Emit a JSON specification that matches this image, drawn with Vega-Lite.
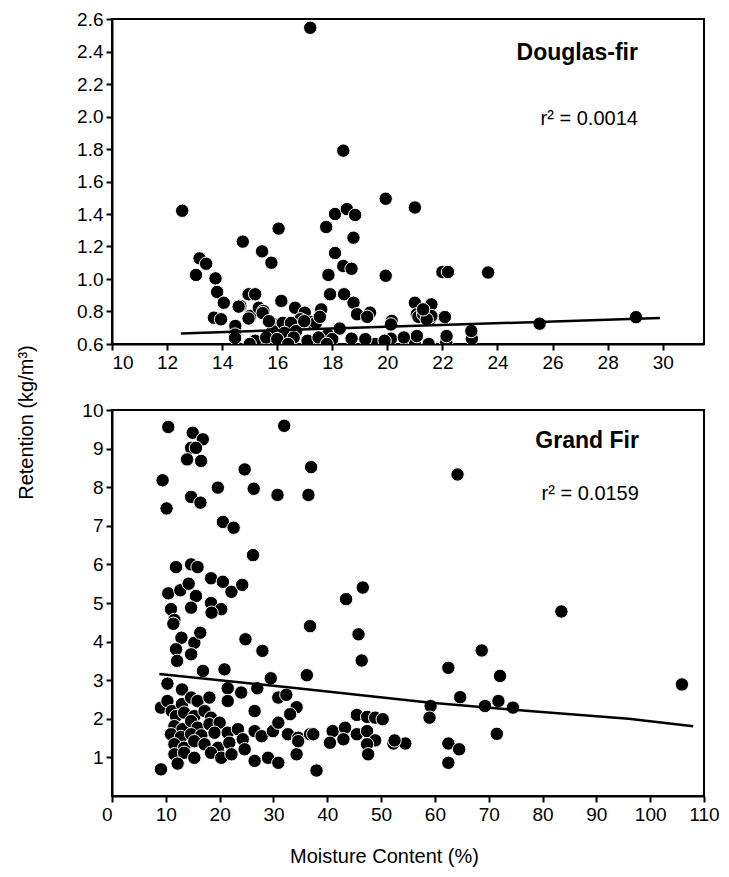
{
  "$schema": "https://vega.github.io/schema/vega-lite/v6.json",
  "padding": {"left": 14, "top": 9, "right": 5, "bottom": 5},
  "background": "white",
  "spacing": 66,
  "bounds": "flush",
  "config": {
    "font": "Liberation Sans",
    "view": {"stroke": "black", "strokeWidth": 2},
    "axis": {
      "grid": false,
      "domainColor": "black",
      "domainWidth": 2,
      "tickColor": "black",
      "tickWidth": 2,
      "tickSize": 6,
      "labelFont": "Liberation Sans",
      "labelFontSize": 19,
      "labelColor": "black",
      "labelPadding": 3,
      "titleFont": "Liberation Sans",
      "titleFontSize": 20,
      "titleFontWeight": "normal",
      "titleColor": "black"
    }
  },
  "datasets": {
    "douglas": [
      {"mc": 17.2, "ret": 2.546}, {"mc": 18.4, "ret": 1.79}, {"mc": 12.55, "ret": 1.42}, {"mc": 19.94, "ret": 1.494},
      {"mc": 21.0, "ret": 1.44}, {"mc": 16.05, "ret": 1.31}, {"mc": 17.78, "ret": 1.32}, {"mc": 18.1, "ret": 1.40},
      {"mc": 18.53, "ret": 1.43}, {"mc": 18.83, "ret": 1.394}, {"mc": 18.77, "ret": 1.254}, {"mc": 14.75, "ret": 1.23},
      {"mc": 15.45, "ret": 1.17}, {"mc": 15.79, "ret": 1.10}, {"mc": 18.1, "ret": 1.16}, {"mc": 18.4, "ret": 1.08},
      {"mc": 18.7, "ret": 1.063}, {"mc": 17.86, "ret": 1.025}, {"mc": 19.94, "ret": 1.02}, {"mc": 13.18, "ret": 1.127},
      {"mc": 13.42, "ret": 1.094}, {"mc": 13.05, "ret": 1.025}, {"mc": 13.76, "ret": 1.004}, {"mc": 13.82, "ret": 0.92},
      {"mc": 14.06, "ret": 0.854}, {"mc": 13.7, "ret": 0.762}, {"mc": 13.96, "ret": 0.752}, {"mc": 14.48, "ret": 0.711},
      {"mc": 14.96, "ret": 0.906}, {"mc": 15.2, "ret": 0.906}, {"mc": 14.66, "ret": 0.834}, {"mc": 15.02, "ret": 0.772},
      {"mc": 15.33, "ret": 0.823}, {"mc": 15.5, "ret": 0.803}, {"mc": 16.15, "ret": 0.865}, {"mc": 16.65, "ret": 0.823},
      {"mc": 17.0, "ret": 0.793}, {"mc": 16.84, "ret": 0.752}, {"mc": 17.6, "ret": 0.813}, {"mc": 17.92, "ret": 0.906},
      {"mc": 18.43, "ret": 0.906}, {"mc": 18.77, "ret": 0.854}, {"mc": 18.9, "ret": 0.783}, {"mc": 19.37, "ret": 0.793},
      {"mc": 20.16, "ret": 0.742}, {"mc": 21.0, "ret": 0.854}, {"mc": 21.07, "ret": 0.783}, {"mc": 15.8, "ret": 0.73},
      {"mc": 16.2, "ret": 0.73}, {"mc": 16.5, "ret": 0.73}, {"mc": 17.25, "ret": 0.735}, {"mc": 17.4, "ret": 0.73},
      {"mc": 14.96, "ret": 0.757}, {"mc": 14.47, "ret": 0.658}, {"mc": 15.47, "ret": 0.79}, {"mc": 15.83, "ret": 0.68},
      {"mc": 16.26, "ret": 0.668}, {"mc": 16.69, "ret": 0.68}, {"mc": 16.98, "ret": 0.74}, {"mc": 17.55, "ret": 0.767},
      {"mc": 17.84, "ret": 0.658}, {"mc": 18.27, "ret": 0.695}, {"mc": 18.7, "ret": 0.633}, {"mc": 19.27, "ret": 0.767},
      {"mc": 19.56, "ret": 0.6}, {"mc": 20.13, "ret": 0.72}, {"mc": 20.13, "ret": 0.633}, {"mc": 21.0, "ret": 0.61},
      {"mc": 21.13, "ret": 0.767}, {"mc": 21.56, "ret": 0.755}, {"mc": 22.06, "ret": 0.767}, {"mc": 22.14, "ret": 0.61},
      {"mc": 23.07, "ret": 0.633}, {"mc": 25.53, "ret": 0.725}, {"mc": 29.03, "ret": 0.765}, {"mc": 22.0, "ret": 1.043},
      {"mc": 22.2, "ret": 1.043}, {"mc": 23.66, "ret": 1.04}, {"mc": 21.6, "ret": 0.844}, {"mc": 21.3, "ret": 0.783},
      {"mc": 21.6, "ret": 0.772}, {"mc": 22.09, "ret": 0.766}, {"mc": 21.07, "ret": 0.649}, {"mc": 22.15, "ret": 0.649},
      {"mc": 23.05, "ret": 0.68}, {"mc": 21.43, "ret": 0.752}, {"mc": 21.3, "ret": 0.813}, {"mc": 14.6, "ret": 0.83},
      {"mc": 15.7, "ret": 0.74}, {"mc": 14.47, "ret": 0.637}, {"mc": 15.2, "ret": 0.62}, {"mc": 15.6, "ret": 0.64},
      {"mc": 16.0, "ret": 0.63}, {"mc": 16.6, "ret": 0.64}, {"mc": 17.1, "ret": 0.62}, {"mc": 17.5, "ret": 0.64},
      {"mc": 18.0, "ret": 0.63}, {"mc": 19.2, "ret": 0.63}, {"mc": 19.9, "ret": 0.62}, {"mc": 20.6, "ret": 0.64},
      {"mc": 15.0, "ret": 0.6}, {"mc": 16.4, "ret": 0.6}, {"mc": 17.8, "ret": 0.6}, {"mc": 21.5, "ret": 0.6}
    ],
    "grand": [
      {"mc": 10.46, "ret": 9.56}, {"mc": 15.0, "ret": 9.41}, {"mc": 16.87, "ret": 9.24}, {"mc": 32.0, "ret": 9.59},
      {"mc": 14.7, "ret": 9.02}, {"mc": 15.6, "ret": 9.02}, {"mc": 13.95, "ret": 8.72}, {"mc": 16.56, "ret": 8.68},
      {"mc": 9.4, "ret": 8.18}, {"mc": 24.65, "ret": 8.46}, {"mc": 37.0, "ret": 8.52}, {"mc": 19.67, "ret": 7.99},
      {"mc": 26.33, "ret": 7.96}, {"mc": 30.75, "ret": 7.8}, {"mc": 36.5, "ret": 7.8}, {"mc": 14.7, "ret": 7.75},
      {"mc": 16.43, "ret": 7.6}, {"mc": 10.14, "ret": 7.45}, {"mc": 20.6, "ret": 7.1}, {"mc": 22.6, "ret": 6.95},
      {"mc": 26.2, "ret": 6.24}, {"mc": 11.9, "ret": 5.93}, {"mc": 14.7, "ret": 6.0}, {"mc": 15.9, "ret": 5.93},
      {"mc": 18.4, "ret": 5.64}, {"mc": 20.6, "ret": 5.55}, {"mc": 22.2, "ret": 5.29}, {"mc": 24.2, "ret": 5.47},
      {"mc": 10.46, "ret": 5.25}, {"mc": 12.7, "ret": 5.33}, {"mc": 14.25, "ret": 5.5}, {"mc": 15.6, "ret": 5.18},
      {"mc": 10.96, "ret": 4.84}, {"mc": 14.7, "ret": 4.88}, {"mc": 18.4, "ret": 5.0}, {"mc": 20.3, "ret": 4.84},
      {"mc": 18.5, "ret": 4.75}, {"mc": 11.6, "ret": 4.56}, {"mc": 11.4, "ret": 4.46}, {"mc": 12.9, "ret": 4.1},
      {"mc": 15.3, "ret": 3.97}, {"mc": 16.4, "ret": 4.23}, {"mc": 11.9, "ret": 3.8}, {"mc": 14.7, "ret": 3.67},
      {"mc": 12.1, "ret": 3.5}, {"mc": 24.8, "ret": 4.06}, {"mc": 27.95, "ret": 3.76}, {"mc": 36.8, "ret": 4.4},
      {"mc": 16.9, "ret": 3.24}, {"mc": 20.9, "ret": 3.28}, {"mc": 36.2, "ret": 3.13}, {"mc": 29.5, "ret": 3.05},
      {"mc": 10.3, "ret": 2.91}, {"mc": 13.0, "ret": 2.76}, {"mc": 21.5, "ret": 2.79}, {"mc": 24.0, "ret": 2.68},
      {"mc": 27.0, "ret": 2.79}, {"mc": 30.9, "ret": 2.55}, {"mc": 32.4, "ret": 2.62}, {"mc": 34.3, "ret": 2.3},
      {"mc": 33.1, "ret": 2.12}, {"mc": 9.1, "ret": 2.29}, {"mc": 10.3, "ret": 2.46}, {"mc": 11.1, "ret": 2.2},
      {"mc": 13.0, "ret": 2.38}, {"mc": 14.7, "ret": 2.55}, {"mc": 15.9, "ret": 2.46}, {"mc": 18.1, "ret": 2.55},
      {"mc": 21.5, "ret": 2.46}, {"mc": 26.5, "ret": 2.2}, {"mc": 11.9, "ret": 2.07}, {"mc": 13.4, "ret": 2.16},
      {"mc": 15.3, "ret": 2.07}, {"mc": 17.2, "ret": 2.2}, {"mc": 18.4, "ret": 2.03}, {"mc": 11.6, "ret": 1.81},
      {"mc": 13.1, "ret": 1.73}, {"mc": 14.7, "ret": 1.94}, {"mc": 15.9, "ret": 1.77}, {"mc": 18.1, "ret": 1.86},
      {"mc": 20.0, "ret": 1.9}, {"mc": 10.96, "ret": 1.6}, {"mc": 12.8, "ret": 1.53}, {"mc": 14.7, "ret": 1.6},
      {"mc": 16.6, "ret": 1.57}, {"mc": 19.05, "ret": 1.64}, {"mc": 21.5, "ret": 1.64}, {"mc": 23.4, "ret": 1.73},
      {"mc": 11.6, "ret": 1.34}, {"mc": 13.4, "ret": 1.25}, {"mc": 15.3, "ret": 1.42}, {"mc": 17.2, "ret": 1.34},
      {"mc": 19.7, "ret": 1.25}, {"mc": 21.8, "ret": 1.38}, {"mc": 24.3, "ret": 1.47}, {"mc": 26.5, "ret": 1.68},
      {"mc": 27.8, "ret": 1.55}, {"mc": 29.9, "ret": 1.68}, {"mc": 30.9, "ret": 1.9}, {"mc": 32.7, "ret": 1.6},
      {"mc": 34.6, "ret": 1.51}, {"mc": 36.8, "ret": 1.6}, {"mc": 11.6, "ret": 1.08}, {"mc": 13.4, "ret": 1.12},
      {"mc": 15.3, "ret": 0.99}, {"mc": 18.4, "ret": 1.12}, {"mc": 20.3, "ret": 0.99}, {"mc": 22.2, "ret": 1.08},
      {"mc": 24.65, "ret": 1.21}, {"mc": 26.5, "ret": 0.91}, {"mc": 29.0, "ret": 0.99}, {"mc": 30.9, "ret": 0.86},
      {"mc": 34.3, "ret": 1.08}, {"mc": 38.0, "ret": 0.66}, {"mc": 9.1, "ret": 0.69}, {"mc": 12.2, "ret": 0.84},
      {"mc": 64.2, "ret": 8.33}, {"mc": 43.5, "ret": 5.1}, {"mc": 46.6, "ret": 5.4}, {"mc": 45.8, "ret": 4.19},
      {"mc": 46.4, "ret": 3.51}, {"mc": 83.5, "ret": 4.78}, {"mc": 68.7, "ret": 3.77}, {"mc": 62.5, "ret": 3.32},
      {"mc": 72.1, "ret": 3.11}, {"mc": 105.9, "ret": 2.89}, {"mc": 64.7, "ret": 2.56}, {"mc": 59.2, "ret": 2.33},
      {"mc": 59.0, "ret": 2.03}, {"mc": 69.3, "ret": 2.33}, {"mc": 71.8, "ret": 2.46}, {"mc": 74.5, "ret": 2.29},
      {"mc": 71.5, "ret": 1.61}, {"mc": 34.6, "ret": 1.42}, {"mc": 37.4, "ret": 1.6}, {"mc": 41.0, "ret": 1.68},
      {"mc": 43.3, "ret": 1.77}, {"mc": 40.5, "ret": 1.38}, {"mc": 43.0, "ret": 1.47}, {"mc": 45.5, "ret": 2.1},
      {"mc": 47.4, "ret": 2.05}, {"mc": 48.9, "ret": 2.03}, {"mc": 50.3, "ret": 1.99}, {"mc": 45.5, "ret": 1.6},
      {"mc": 47.4, "ret": 1.68}, {"mc": 48.9, "ret": 1.44}, {"mc": 47.4, "ret": 1.34}, {"mc": 47.6, "ret": 1.08},
      {"mc": 52.3, "ret": 1.36}, {"mc": 54.5, "ret": 1.36}, {"mc": 52.5, "ret": 1.44}, {"mc": 62.5, "ret": 1.36},
      {"mc": 64.5, "ret": 1.21}, {"mc": 62.5, "ret": 0.86}
    ],
    "fit_douglas": [
      {"mc": 12.5, "ret": 0.665}, {"mc": 29.9, "ret": 0.76}
    ],
    "fit_grand": [
      {"mc": 8.8, "ret": 3.16}, {"mc": 34, "ret": 2.8}, {"mc": 58.8, "ret": 2.42},
      {"mc": 77.5, "ret": 2.2}, {"mc": 96, "ret": 2.0}, {"mc": 108, "ret": 1.81}
    ],
    "labels_douglas": [
      {"mc": 29.1, "ret": 2.39, "text": "Douglas-fir", "kind": "name"},
      {"mc": 29.1, "ret": 1.985, "text": "r² = 0.0014", "kind": "r2"}
    ],
    "labels_grand": [
      {"mc": 97.9, "ret": 9.2, "text": "Grand Fir", "kind": "name"},
      {"mc": 97.9, "ret": 7.82, "text": "r² = 0.0159", "kind": "r2"}
    ]
  },
  "vconcat": [
    {
      "width": 592,
      "height": 325,
      "encoding": {
        "x": {"field": "mc", "type": "quantitative",
              "scale": {"domain": [10, 31.5], "nice": false, "zero": false},
              "axis": {"title": null, "values": [10, 12, 14, 16, 18, 20, 22, 24, 26, 28, 30]}},
        "y": {"field": "ret", "type": "quantitative",
              "scale": {"domain": [0.6, 2.6], "nice": false, "zero": false},
              "axis": {"title": null, "format": ".1f", "values": [0.6, 0.8, 1.0, 1.2, 1.4, 1.6, 1.8, 2.0, 2.2, 2.4, 2.6]}}
      },
      "layer": [
        {"data": {"name": "douglas"},
         "mark": {"type": "circle", "size": 180, "opacity": 1, "color": "black", "stroke": "white", "strokeWidth": 1, "clip": true}},
        {"data": {"name": "fit_douglas"},
         "mark": {"type": "line", "color": "black", "strokeWidth": 2.5}},
        {"data": {"name": "labels_douglas"},
         "transform": [{"filter": "datum.kind === 'name'"}],
         "mark": {"type": "text", "align": "right", "baseline": "middle", "fontSize": 23, "fontWeight": "bold", "color": "black"},
         "encoding": {"text": {"field": "text"}}},
        {"data": {"name": "labels_douglas"},
         "transform": [{"filter": "datum.kind === 'r2'"}],
         "mark": {"type": "text", "align": "right", "baseline": "middle", "fontSize": 20, "color": "black"},
         "encoding": {"text": {"field": "text"}}}
      ]
    },
    {
      "width": 592,
      "height": 386,
      "encoding": {
        "x": {"field": "mc", "type": "quantitative",
              "scale": {"domain": [0, 110], "nice": false, "zero": false},
              "axis": {"title": "Moisture Content (%)", "titlePadding": 22, "titleX": 272,
                       "values": [0, 10, 20, 30, 40, 50, 60, 70, 80, 90, 100, 110],
                       "labelAlign": {"condition": {"test": "datum.value === 0", "value": "right"}, "value": "center"}}},
        "y": {"field": "ret", "type": "quantitative",
              "scale": {"domain": [0, 10], "nice": false, "zero": false},
              "axis": {"title": "Retention (kg/m³)", "titleX": -86, "titleY": 12, "titleBaseline": "middle",
                       "values": [1, 2, 3, 4, 5, 6, 7, 8, 9, 10]}}
      },
      "layer": [
        {"data": {"name": "grand"},
         "mark": {"type": "circle", "size": 180, "opacity": 1, "color": "black", "stroke": "white", "strokeWidth": 1, "clip": true}},
        {"data": {"name": "fit_grand"},
         "mark": {"type": "line", "color": "black", "strokeWidth": 2.5}},
        {"data": {"name": "labels_grand"},
         "transform": [{"filter": "datum.kind === 'name'"}],
         "mark": {"type": "text", "align": "right", "baseline": "middle", "fontSize": 23, "fontWeight": "bold", "color": "black"},
         "encoding": {"text": {"field": "text"}}},
        {"data": {"name": "labels_grand"},
         "transform": [{"filter": "datum.kind === 'r2'"}],
         "mark": {"type": "text", "align": "right", "baseline": "middle", "fontSize": 20, "color": "black"},
         "encoding": {"text": {"field": "text"}}}
      ]
    }
  ]
}
